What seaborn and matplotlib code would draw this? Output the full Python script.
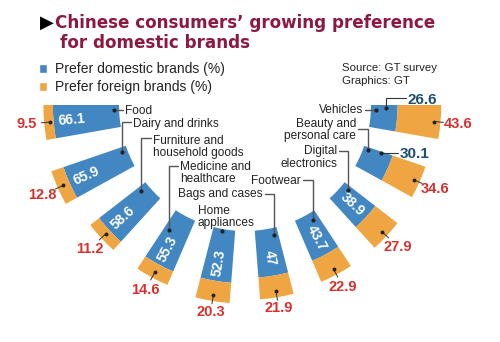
import numpy as np
import matplotlib
matplotlib.use("Agg")
import matplotlib.pyplot as plt
import seaborn as sns
from matplotlib.patches import Patch

# ---------------- data ----------------
categories = ["Food", "Dairy and drinks", "Furniture and\nhousehold goods",
              "Medicine and\nhealthcare", "Home\nappliances", "Bags and cases",
              "Footwear", "Digital\nelectronics", "Beauty and\npersonal care",
              "Vehicles"]
domestic = [66.1, 65.9, 58.6, 55.3, 52.3, 47.0, 43.7, 38.9, 30.1, 26.6]
foreign = [9.5, 12.8, 11.2, 14.6, 20.3, 21.9, 22.9, 27.9, 34.6, 43.6]
series_names = ["Prefer domestic brands (%)", "Prefer foreign brands (%)"]
title_lines = ["Chinese consumers\u2019 growing preference", "for domestic brands"]
source_lines = ["Source: GT survey", "Graphics: GT"]

# ---------------- style ----------------
BLUE = "#4287C2"
ORANGE = "#EFA642"
RED = "#D7312E"
NAVY = "#1D4F72"
MAROON = "#8C1A3F"
GREY = "#555555"
TXT = "#222222"

sns.set_theme(style="white")
plt.rcParams["font.family"] = ["Liberation Sans", "DejaVu Sans"]
palette = sns.color_palette([BLUE, ORANGE])

W, H = 500, 342
fig = plt.figure(figsize=(W / 100, H / 100), dpi=100)
fig.patch.set_facecolor("white")

# polar axes: centre of the fan at pixel (245, 105) from the top-left
CX, CY = 245, 105
R0 = 126          # inner hole radius (data units = pixels)
RMAX = 215
ax = fig.add_axes([(CX - RMAX) / W, (H - CY - RMAX) / H, 2 * RMAX / W, 2 * RMAX / H],
                  projection="polar")
ax.set_ylim(0, RMAX)
ax.set_axis_off()

n = len(categories)
theta_deg = np.linspace(185, 355, n)
theta = np.deg2rad(theta_deg)
bar_w = np.deg2rad(10)
dom = np.array(domestic)
frn = np.array(foreign)

ax.bar(theta, dom, width=bar_w, bottom=R0, color=palette[0], linewidth=0)
ax.bar(theta, frn, width=bar_w, bottom=R0 + dom, color=palette[1], linewidth=0)

# overlay axes in pixel coordinates (y down) for annotations
ov = fig.add_axes([0, 0, 1, 1], zorder=5)
ov.set_xlim(0, W)
ov.set_ylim(H, 0)
ov.set_axis_off()
ov.patch.set_alpha(0)


def P(th_deg, r):
    x, y = ax.transData.transform((np.deg2rad(th_deg), r))
    return x, H - y


def fmt(v):
    return f"{v:g}"


# white domestic values inside blue bars
for i in range(n - 2):
    t = theta_deg[i]
    rot = t - 180 if t < 270 else t - 360
    ax.text(theta[i], R0 + dom[i] - 18, fmt(dom[i]), rotation=rot, rotation_mode="anchor",
            ha="center", va="center", color="white", fontsize=10, fontweight="bold")

# navy domestic values outside for the last two bars
navy_layout = {8: dict(dth=4.5, r=144, tx=400, ty=153, base=158),
               9: dict(dth=3.8, r=141, tx=408, ty=97.5, base=104)}
for i, L in navy_layout.items():
    x0, y0 = P(theta_deg[i] + L["dth"], L["r"])
    ov.plot([x0, x0, L["tx"] - 2], [y0, L["ty"], L["ty"]], color="#333333", lw=0.8,
            solid_joinstyle="miter")
    ov.plot([x0], [y0], "o", ms=2, color="#222222")
    ov.text(L["tx"], L["base"], fmt(dom[i]), ha="left", va="baseline", color=NAVY,
            fontsize=11, fontweight="bold")

# red foreign values beyond the bars
for i in range(n):
    t = theta_deg[i]
    outer = R0 + dom[i] + frn[i]
    x0, y0 = P(t, outer - 6)
    x1, y1 = P(t, outer + 3)
    ov.plot([x0, x1], [y0, y1], color="#333333", lw=0.7)
    ov.plot([x0], [y0], "o", ms=1.8, color="#222222")
    rl = outer + 10 + 8 * abs(np.cos(theta[i]))
    ax.text(theta[i], rl, fmt(frn[i]), ha="center", va="center", color=RED,
            fontsize=10.5, fontweight="bold")

# category labels with elbow leaders
cat_layout = [
    dict(x=125, base=[114], ha="left", hy=110, hx=123, dth=-2.8, r=131),
    dict(x=133, base=[127.5], ha="left", hy=122.3, hx=131, dth=-3, r=132),
    dict(x=153, base=[143.5, 155.7], ha="left", hy=138.3, hx=151, dth=-3, r=135),
    dict(x=180, base=[169.5, 181.7], ha="left", hy=166, hx=178, dth=-3, r=146),
    dict(x=198, base=[214.5, 226], ha="left", hy=228.5, hx=None, dth=-1, r=128),
    dict(x=263, base=[197.5], ha="right", hy=194, hx=265, dth=3, r=133),
    dict(x=301, base=[184], ha="right", hy=179.5, hx=303, dth=2.3, r=133.6),
    dict(x=337, base=[154, 167], ha="right", hy=151, hx=339, dth=3.3, r=133.5),
    dict(x=356, base=[126.7, 139.2], ha="right", hy=129, hx=358, dth=3.8, r=131),
    dict(x=363, base=[113.3], ha="right", hy=110, hx=365, dth=2.8, r=131),
]
for i, L in enumerate(cat_layout):
    for line, b in zip(categories[i].split("\n"), L["base"]):
        ov.text(L["x"], b, line, ha=L["ha"], va="baseline", color=TXT, fontsize=8.6)
    x0, y0 = P(theta_deg[i] + L["dth"], L["r"])
    xs, ys = [x0, x0], [y0, L["hy"]]
    if L["hx"] is not None:
        xs.append(L["hx"])
        ys.append(L["hy"])
    ov.plot(xs, ys, color=GREY, lw=1.0, solid_joinstyle="miter")
    ov.plot([x0], [y0], "o", ms=2, color="#222222")

# title
ov.text(40, 27.5, "\u25B6", fontsize=13, color="black", family="DejaVu Sans", va="baseline")
ov.text(55, 27.5, title_lines[0], fontsize=12.1, fontweight="bold", color=MAROON,
        family="DejaVu Sans", va="baseline")
ov.text(60, 48.5, title_lines[1], fontsize=12.1, fontweight="bold", color=MAROON,
        family="DejaVu Sans", va="baseline")

# source
ov.text(342, 70.7, source_lines[0], fontsize=8.2, color=TXT, va="baseline")
ov.text(342, 84, source_lines[1], fontsize=8.2, color=TXT, va="baseline")

# legend
handles = [Patch(facecolor=palette[0], label=series_names[0]),
           Patch(facecolor=palette[1], label=series_names[1])]
fig.legend(handles=handles, loc="upper left", bbox_to_anchor=(39, 62.5),
           bbox_transform=ov.transData, frameon=False, fontsize=10,
           handlelength=0.55, handleheight=0.55, handletextpad=0.6,
           labelspacing=0.28, borderpad=0, borderaxespad=0, labelcolor=TXT)

fig.savefig("out.png", dpi=100, facecolor="white")
